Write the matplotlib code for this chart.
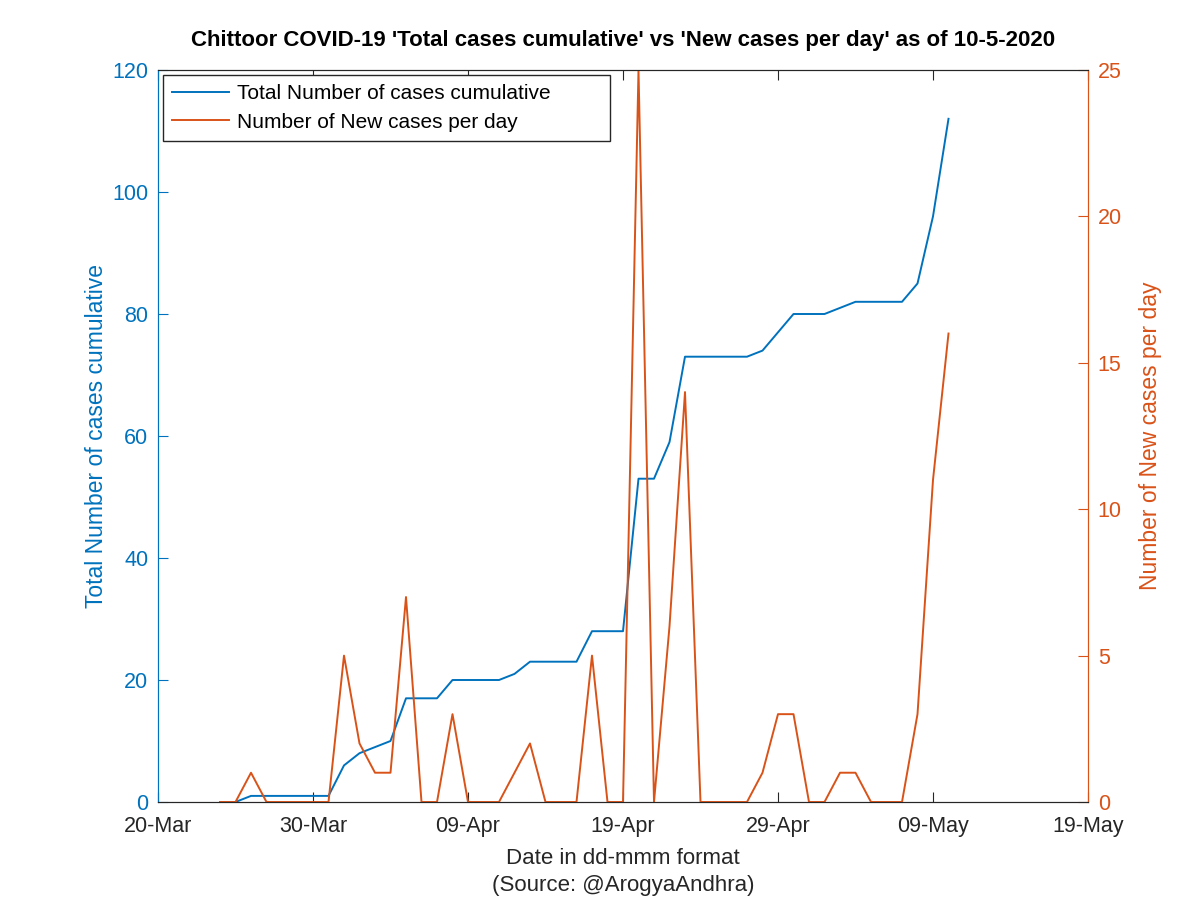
import datetime as dt
import matplotlib
matplotlib.use("Agg")
import matplotlib.pyplot as plt
import matplotlib.dates as mdates

plt.rcParams['font.family'] = ['Liberation Sans', 'DejaVu Sans']

# data, one value per day from 24-Mar-2020
start_date = dt.date(2020, 3, 24)
total_cases = [0, 0, 1, 1, 1, 1, 1, 1, 6, 8, 9, 10, 17, 17, 17, 20, 20, 20, 20, 21,
               23, 23, 23, 23, 28, 28, 28, 53, 53, 59, 73, 73, 73, 73, 73, 74, 77, 80,
               80, 80, 81, 82, 82, 82, 82, 85, 96, 112]
new_cases = [0, 0, 1, 0, 0, 0, 0, 0, 5, 2, 1, 1, 7, 0, 0, 3, 0, 0, 0, 1,
             2, 0, 0, 0, 5, 0, 0, 25, 0, 6, 14, 0, 0, 0, 0, 1, 3, 3,
             0, 0, 1, 1, 0, 0, 0, 3, 11, 16]
dates = [start_date + dt.timedelta(days=i) for i in range(len(total_cases))]

x_ticks = [dt.date(2020, 3, 20) + dt.timedelta(days=10 * i) for i in range(7)]

blue = '#0072BD'
orange = '#D95319'
dark = '#262626'

fig = plt.figure(figsize=(12, 8.98), dpi=100)
ax = fig.add_axes([158 / 1200, 96 / 898, 930 / 1200, 732 / 898])
ax2 = ax.twinx()

l1, = ax.plot(dates, total_cases, color=blue, lw=1.4)
l2, = ax2.plot(dates, new_cases, color=orange, lw=1.4)

ax.set_xlim(x_ticks[0], x_ticks[-1])
ax.set_xticks(x_ticks)
ax.xaxis.set_major_formatter(mdates.DateFormatter('%d-%b'))
ax.set_ylim(0, 120)
ax.set_yticks(range(0, 121, 20))
ax2.set_ylim(0, 25)
ax2.set_yticks(range(0, 26, 5))

# MATLAB-ish box and ticks
ax.tick_params(axis='x', direction='in', top=True, colors=dark, labelsize=15.5, length=7, pad=10)
ax.tick_params(axis='y', direction='in', colors=blue, labelsize=15.5, length=7, pad=7)
ax2.tick_params(axis='y', direction='in', colors=orange, labelsize=15.5, length=7, pad=7)
for s in ['top', 'bottom']:
    ax.spines[s].set_color(dark)
    ax2.spines[s].set_color(dark)
ax.spines['left'].set_color(blue)
ax2.spines['left'].set_color(blue)
ax2.spines['right'].set_color(orange)
ax.spines['right'].set_color(orange)

ax.set_xlabel('Date in dd-mmm format\n(Source: @ArogyaAndhra)', fontsize=16, color=dark,
              labelpad=8, linespacing=1.35)
ax.set_ylabel('Total Number of cases cumulative', fontsize=16.5, color=blue, labelpad=3)
ax2.set_ylabel('Number of New cases per day', fontsize=16.5, color=orange, labelpad=12)
ax.set_title("Chittoor COVID-19 'Total cases cumulative' vs 'New cases per day' as of 10-5-2020",
             fontsize=16, fontweight='bold', color='black', pad=17)

leg = ax2.legend([l1, l2], ['Total Number of cases cumulative', 'Number of New cases per day'],
                 loc='upper left', bbox_to_anchor=(5 / 930, 0, 447 / 930, 727 / 732),
                 mode='expand', borderaxespad=0, fontsize=15, fancybox=False, framealpha=1,
                 edgecolor=dark, handlelength=2.7, labelspacing=0.45,
                 borderpad=0.45, handletextpad=0.4)
leg.get_frame().set_linewidth(1.0)

fig.savefig('out.png', dpi=100)
